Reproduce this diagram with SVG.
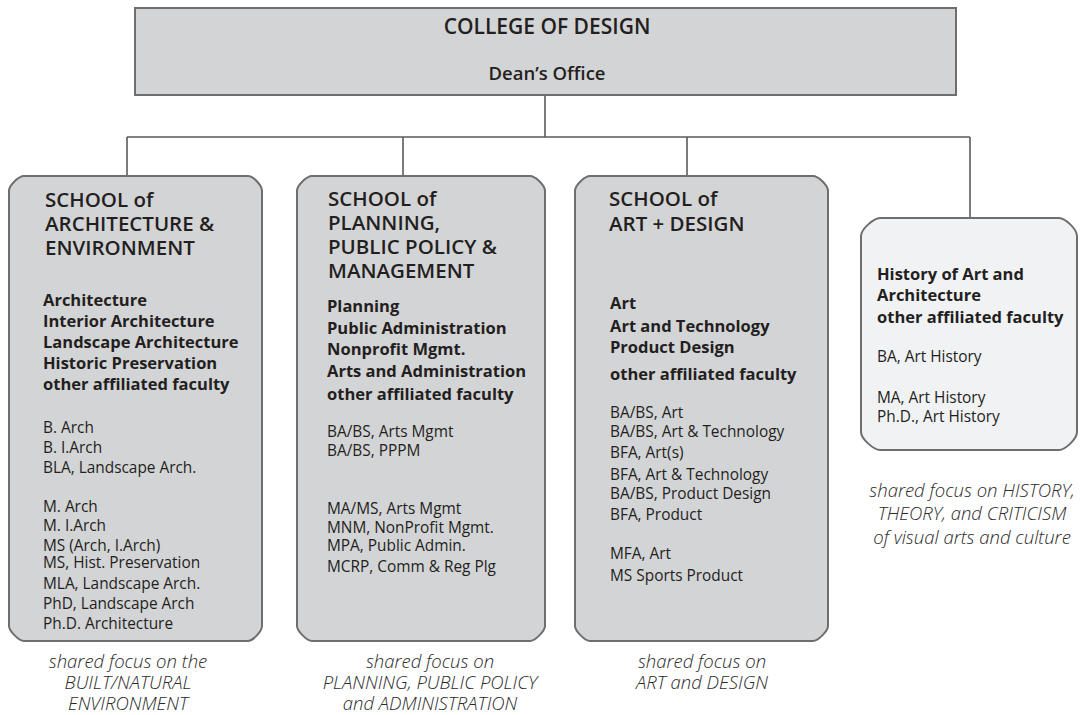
<svg xmlns="http://www.w3.org/2000/svg" width="1082" height="715" viewBox="0 0 1082 715">
<style>
.box{fill:#d3d4d6;stroke:#6e6e6e;stroke-width:2}
.box4{fill:#f1f2f4;stroke:#6e6e6e;stroke-width:2}
.conn{fill:none;stroke:#5a5a5a;stroke-width:1.6}
text{font-family:"Open Sans","Noto Sans","Liberation Sans",sans-serif;fill:#231f20}
.hd{font-size:21px;font-weight:600;text-anchor:middle}
.ttl{font-size:20.5px;font-weight:600}
.bld{font-size:16.5px;font-weight:700}
.reg{font-size:15.4px;font-weight:400}
.foc{font-size:18.5px;font-weight:300;font-style:italic;text-anchor:middle;fill:#2a2a2a}
</style>
<g id="connectors">
<line class="conn" x1="545" y1="95" x2="545" y2="137"/>
<line class="conn" x1="127" y1="137" x2="970" y2="137"/>
<line class="conn" x1="127" y1="137" x2="127" y2="176"/>
<line class="conn" x1="403" y1="137" x2="403" y2="176"/>
<line class="conn" x1="687" y1="137" x2="687" y2="176"/>
<line class="conn" x1="970" y1="137" x2="970" y2="218"/>
</g>
<g id="college">
<rect class="box" x="135" y="8" width="821" height="87"/>
<text class="hd" x="547" y="34">COLLEGE OF DESIGN</text>
<text class="hd" x="547" y="80" style="font-size:18.5px">Dean’s Office</text>
</g>
<g id="school-arch">
<path class="box" d="M24,176 L248,176 C253,176 262,185 262,191 L262,626 C262,631 253,641 248,641 L24,641 C19,641 9,631 9,626 L9,191 C9,185 19,176 24,176 Z"/>
<text class="ttl" x="45" y="207">SCHOOL of</text>
<text class="ttl" x="45" y="231">ARCHITECTURE &amp;</text>
<text class="ttl" x="45" y="255">ENVIRONMENT</text>
<text class="bld" x="43" y="306">Architecture</text>
<text class="bld" x="43" y="327">Interior Architecture</text>
<text class="bld" x="43" y="348">Landscape Architecture</text>
<text class="bld" x="43" y="369">Historic Preservation</text>
<text class="bld" x="43" y="390">other affiliated faculty</text>
<text class="reg" x="43" y="433">B. Arch</text>
<text class="reg" x="43" y="453">B. I.Arch</text>
<text class="reg" x="43" y="473">BLA, Landscape Arch.</text>
<text class="reg" x="43" y="512">M. Arch</text>
<text class="reg" x="43" y="531">M. I.Arch</text>
<text class="reg" x="43" y="551">MS (Arch, I.Arch)</text>
<text class="reg" x="43" y="568">MS,  Hist.  Preservation</text>
<text class="reg" x="43" y="589">MLA, Landscape Arch.</text>
<text class="reg" x="43" y="609">PhD, Landscape  Arch</text>
<text class="reg" x="43" y="629">Ph.D. Architecture</text>
<text class="foc" x="128" y="668">shared focus on the</text>
<text class="foc" x="128" y="689">BUILT/NATURAL</text>
<text class="foc" x="128" y="710">ENVIRONMENT</text>
</g>
<g id="school-planning">
<path class="box" d="M312,176 L530,176 C535,176 545,185 545,191 L545,626 C545,631 535,641 530,641 L312,641 C307,641 297,631 297,626 L297,191 C297,185 307,176 312,176 Z"/>
<text class="ttl" x="328" y="206">SCHOOL of</text>
<text class="ttl" x="328" y="230">PLANNING,</text>
<text class="ttl" x="328" y="254">PUBLIC POLICY &amp;</text>
<text class="ttl" x="328" y="278">MANAGEMENT</text>
<text class="bld" x="327" y="312">Planning</text>
<text class="bld" x="327" y="334">Public Administration</text>
<text class="bld" x="327" y="355">Nonprofit Mgmt.</text>
<text class="bld" x="327" y="377">Arts and Administration</text>
<text class="bld" x="327" y="400">other affiliated faculty</text>
<text class="reg" x="327" y="437">BA/BS, Arts Mgmt</text>
<text class="reg" x="327" y="456">BA/BS, PPPM</text>
<text class="reg" x="327" y="514">MA/MS, Arts Mgmt</text>
<text class="reg" x="327" y="533">MNM, NonProfit Mgmt.</text>
<text class="reg" x="327" y="551">MPA, Public Admin.</text>
<text class="reg" x="327" y="572">MCRP, Comm &amp; Reg Plg</text>
<text class="foc" x="430" y="668">shared focus on</text>
<text class="foc" x="430" y="689">PLANNING, PUBLIC POLICY</text>
<text class="foc" x="430" y="710">and ADMINISTRATION</text>
</g>
<g id="school-art">
<path class="box" d="M590,176 L813,176 C818,176 828,185 828,191 L828,626 C828,631 818,641 813,641 L590,641 C585,641 575,631 575,626 L575,191 C575,185 585,176 590,176 Z"/>
<text class="ttl" x="609" y="206">SCHOOL of</text>
<text class="ttl" x="609" y="231">ART + DESIGN</text>
<text class="bld" x="610" y="309">Art</text>
<text class="bld" x="610" y="332">Art and Technology</text>
<text class="bld" x="610" y="353">Product Design</text>
<text class="bld" x="610" y="380">other affiliated faculty</text>
<text class="reg" x="610" y="418">BA/BS, Art</text>
<text class="reg" x="610" y="437">BA/BS, Art &amp; Technology</text>
<text class="reg" x="610" y="458">BFA, Art(s)</text>
<text class="reg" x="610" y="480">BFA, Art &amp; Technology</text>
<text class="reg" x="610" y="499">BA/BS, Product Design</text>
<text class="reg" x="610" y="520">BFA, Product</text>
<text class="reg" x="610" y="559">MFA, Art</text>
<text class="reg" x="610" y="581">MS Sports Product</text>
<text class="foc" x="702" y="668">shared focus on</text>
<text class="foc" x="702" y="689">ART and DESIGN</text>
</g>
<g id="history">
<path class="box4" d="M880,218 L1059,218 C1065,218 1077,229 1077,236 L1077,432 C1077,439 1065,450 1059,450 L880,450 C874,450 861,439 861,432 L861,236 C861,229 874,218 880,218 Z"/>
<text class="bld" x="877" y="280">History of Art and</text>
<text class="bld" x="877" y="301">Architecture</text>
<text class="bld" x="877" y="323">other affiliated faculty</text>
<text class="reg" x="877" y="362">BA, Art History</text>
<text class="reg" x="877" y="403">MA, Art History</text>
<text class="reg" x="877" y="422">Ph.D., Art History</text>
<text class="foc" x="972" y="497">shared focus on HISTORY,</text>
<text class="foc" x="972" y="520">THEORY, and CRITICISM</text>
<text class="foc" x="972" y="544">of visual arts and culture</text>
</g>
</svg>
